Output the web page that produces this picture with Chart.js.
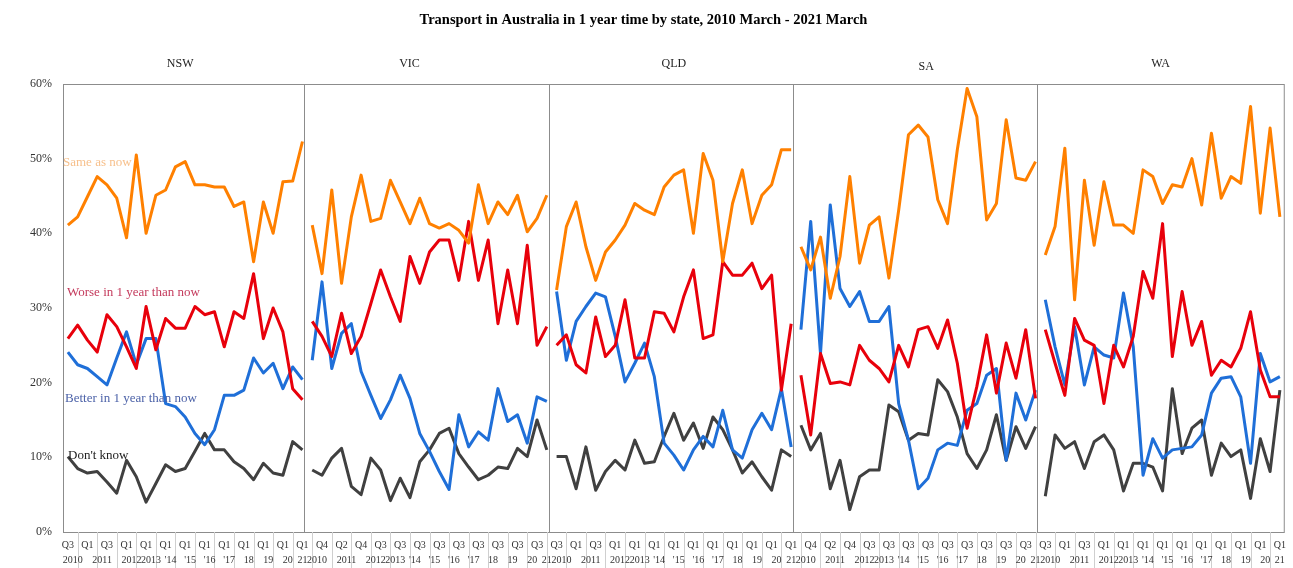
<!DOCTYPE html>
<html>
<head>
<meta charset="utf-8">
<script src="https://cdn.jsdelivr.net/npm/chart.js@4"></script>
<style>
  body { margin: 0; background: #fff; }
  #chart { display: block; }
</style>
</head>
<body>
<canvas id="chart" width="1293" height="568"></canvas>
<script>
// categories
const states = ['NSW', 'VIC', 'QLD', 'SA', 'WA'];
const quarters = ['Q3','Q4','Q1','Q2','Q3','Q4','Q1','Q3','Q1','Q3','Q1','Q3','Q1','Q3','Q1','Q3','Q1','Q3','Q1','Q3','Q1','Q3','Q1','Q3','Q1'];
const years = ['2010','2010','2011','2011','2011','2011','2012','2012','2013','2013',"'14","'14","'15","'15","'16","'16","'17","'17",'18','18','19','19','20','20','21'];
const seriesNames = ['Same as now', 'Worse in 1 year than now', 'Better in 1 year than now', "Don't know"];
const seriesColors = ['#ff8000', '#e8000b', '#1f6fd8', '#404040'];
const yTicks = [0, 10, 20, 30, 40, 50, 60];

// values, % of respondents
const nswSame     = [41.1,42.2,44.9,47.6,46.5,44.7,39.4,50.5,40.0,45.1,45.8,48.9,49.6,46.5,46.5,46.2,46.2,43.6,44.2,36.2,44.2,40.0,46.9,47.0,52.3];
const nswWorse    = [25.9,27.7,25.7,24.1,29.1,27.5,24.8,21.9,30.2,24.4,28.6,27.3,27.3,30.2,29.1,29.5,24.8,29.5,28.6,34.6,25.9,30.0,26.8,19.2,17.7];
const nswBetter   = [24.1,22.4,21.9,20.8,19.7,23.3,26.8,22.4,25.9,25.9,17.2,16.8,15.4,13.2,11.7,13.7,18.3,18.3,19.0,23.3,21.3,22.6,19.2,22.1,20.4];
const nswDontKnow = [10.1,8.5,7.9,8.1,6.7,5.2,9.6,7.4,4.0,6.5,9.0,8.1,8.5,10.8,13.2,11.0,11.0,9.4,8.5,7.0,9.2,7.9,7.6,12.1,11.0];

const vicSame     = [41.1,34.6,45.8,33.3,42.2,47.8,41.6,42.0,47.1,44.2,41.3,44.7,41.3,40.7,41.3,40.4,38.7,46.5,41.3,44.2,42.5,45.1,40.2,42.0,45.1];
const vicWorse    = [28.2,26.2,23.5,29.3,23.9,26.2,30.6,35.1,31.5,28.2,36.9,33.3,37.5,39.1,39.1,33.7,41.6,33.7,39.1,27.9,35.1,27.9,38.4,25.0,27.5];
const vicBetter   = [23.0,33.5,21.9,26.6,27.9,21.5,18.3,15.2,17.7,21.0,17.9,13.2,10.8,8.1,5.7,15.7,11.4,13.4,12.3,19.2,14.8,15.7,11.9,18.1,17.5];
const vicDontKnow = [8.3,7.6,9.9,11.2,6.1,5.0,9.9,8.3,4.2,7.2,4.6,9.4,11.0,13.2,13.9,10.5,8.7,7.0,7.6,8.7,8.5,11.2,10.1,15.0,11.0];

const qldSame     = [32.4,40.9,44.2,38.2,33.7,37.5,39.1,41.1,44.0,43.1,42.5,46.2,47.8,48.5,40.0,50.7,47.1,36.2,44.0,48.5,41.3,45.1,46.5,51.2,51.2];
const qldWorse    = [25.0,26.4,22.4,21.3,28.8,23.5,25.0,31.1,23.3,23.3,29.5,29.3,26.8,31.5,35.1,25.9,26.4,36.2,34.4,34.4,36.0,32.6,34.4,19.0,27.9];
const qldBetter   = [32.2,23.0,28.2,30.2,32.0,31.5,26.2,20.1,22.6,25.3,20.8,11.9,10.3,8.3,11.0,12.8,11.4,16.3,11.0,9.9,13.7,15.9,13.7,19.2,11.4];
const qldDontKnow = [10.1,10.1,5.8,11.4,5.6,8.1,9.6,8.3,12.3,9.2,9.4,12.8,15.9,12.3,14.6,11.2,15.4,13.7,11.0,7.9,9.4,7.4,5.6,11.0,10.1];

const saSame      = [38.2,35.1,39.5,31.3,36.9,47.6,36.0,41.1,42.2,34.0,43.1,53.2,54.5,52.9,44.5,41.3,51.2,59.4,55.6,41.8,44.0,55.2,47.4,47.1,49.6];
const saWorse     = [21.0,13.0,23.9,19.9,20.1,19.7,25.0,23.0,21.9,20.1,25.0,22.1,27.1,27.5,24.6,28.4,22.6,13.9,19.5,26.4,18.6,25.3,20.6,27.1,17.9];
const saBetter    = [27.1,41.6,23.9,43.8,32.6,30.2,32.2,28.2,28.2,30.2,17.2,12.3,5.8,7.2,11.0,11.9,11.6,16.3,17.2,21.0,21.9,9.6,18.6,15.0,19.0];
const saDontKnow  = [14.3,11.0,13.2,5.8,9.6,3.0,7.4,8.3,8.3,17.0,16.1,12.3,13.2,13.0,20.4,18.8,15.4,10.5,8.5,11.0,15.7,9.6,14.1,11.2,14.1];

const waSame      = [37.1,40.9,51.4,31.1,47.1,38.4,46.9,41.1,41.1,40.0,48.5,47.6,44.0,46.5,46.2,50.0,43.8,53.4,44.7,47.6,46.7,57.0,42.7,54.1,42.2];
const waWorse     = [27.1,22.6,18.3,28.6,25.7,25.0,17.2,25.0,22.1,26.2,34.9,31.3,41.3,23.5,32.2,25.0,28.2,21.0,23.0,22.1,24.6,29.5,21.7,18.1,18.1];
const waBetter    = [31.1,24.8,19.7,27.5,19.7,24.8,23.7,23.3,32.0,24.8,7.6,12.5,9.9,11.0,11.2,11.4,13.0,18.6,20.6,20.8,18.1,9.2,23.9,20.1,20.8];
const waDontKnow  = [4.8,13.0,11.2,12.1,8.5,12.1,13.0,11.0,5.5,9.2,9.2,8.7,5.5,19.2,10.5,13.9,15.0,7.6,11.9,10.1,11.0,4.5,12.5,8.1,19.0];

const stateSeries = [
  [nswSame, nswWorse, nswBetter, nswDontKnow],
  [vicSame, vicWorse, vicBetter, vicDontKnow],
  [qldSame, qldWorse, qldBetter, qldDontKnow],
  [saSame, saWorse, saBetter, saDontKnow],
  [waSame, waWorse, waBetter, waDontKnow]
];

const perPanel = quarters.length;
const allLabels = states.flatMap(() => quarters);

// one dataset per state & series, padded with nulls so panels don't join
const datasets = [];
stateSeries.forEach((series, p) => {
  series.forEach((vals, k) => {
    const data = new Array(allLabels.length).fill(null);
    vals.forEach((v, i) => { data[p * perPanel + i] = v; });
    datasets.push({
      label: states[p] + ' ' + seriesNames[k],
      data: data,
      borderColor: seriesColors[k],
      backgroundColor: seriesColors[k],
      borderWidth: 3,
      borderJoinStyle: 'round',
      pointRadius: 0,
      tension: 0,
      spanGaps: false,
      fill: false
    });
  });
});

const serif = "'Liberation Serif', 'Times New Roman', serif";

// frame + panel separators
const panelFrame = {
  id: 'panelFrame',
  beforeDatasetsDraw(chart) {
    const { ctx, chartArea: a, scales: { x } } = chart;
    const w = (a.right - a.left) / allLabels.length;
    ctx.save();
    ctx.strokeStyle = '#8c8c8c';
    ctx.lineWidth = 1;
    ctx.strokeRect(a.left + 0.5, a.top + 0.5, a.right - a.left - 1, a.bottom - a.top);
    for (let p = 1; p < states.length; p++) {
      const px = Math.round(x.getPixelForValue(p * perPanel) - w / 2 - 3) + 0.5;
      ctx.beginPath();
      ctx.moveTo(px, a.top);
      ctx.lineTo(px, a.bottom);
      ctx.stroke();
    }
    ctx.restore();
  }
};

// year row, label-area separators, panel names, series notes
const extraText = {
  id: 'extraText',
  afterDraw(chart) {
    const { ctx, chartArea: a, scales: { x, y } } = chart;
    ctx.save();
    // thin lines between category labels
    ctx.strokeStyle = '#cfcfcf';
    ctx.lineWidth = 1;
    for (let g = 1; g < allLabels.length; g += 2) {
      const px = Math.round(x.getPixelForValue(g)) + 0.5;
      ctx.beginPath();
      ctx.moveTo(px, a.bottom);
      ctx.lineTo(px, chart.height);
      ctx.stroke();
    }
    // year labels centred on their groups
    ctx.fillStyle = '#333';
    ctx.font = '10px ' + serif;
    ctx.textAlign = 'center';
    ctx.textBaseline = 'middle';
    states.forEach((s, p) => {
      let start = 0;
      for (let i = 1; i <= perPanel; i++) {
        if (i === perPanel || years[i] !== years[start]) {
          const cx = (x.getPixelForValue(p * perPanel + start) + x.getPixelForValue(p * perPanel + i - 1)) / 2;
          ctx.fillText(years[start], cx, a.bottom + 28);
          start = i;
        }
      }
    });
    // panel names
    const nameShift = [-5, -20, 0, 8, -2];
    const nameDrop = [0, 0, 0, 3, 0];
    ctx.fillStyle = '#222';
    ctx.font = '12px ' + serif;
    states.forEach((s, p) => {
      const cx = x.getPixelForValue(p * perPanel + (perPanel - 1) / 2);
      ctx.fillText(s, cx + nameShift[p], a.top - 20 + nameDrop[p]);
    });
    // series notes inside the first panel
    const notes = [
      { text: seriesNames[0], v: 49.5, dx: 0,  color: '#f7c08c' },
      { text: seriesNames[1], v: 32.0, dx: 4,  color: '#c43a5c' },
      { text: seriesNames[2], v: 17.9, dx: 2,  color: '#4c62a8' },
      { text: seriesNames[3], v: 10.2, dx: 5,  color: '#222222' }
    ];
    ctx.textAlign = 'left';
    ctx.font = '13px ' + serif;
    notes.forEach(n => {
      ctx.fillStyle = n.color;
      ctx.fillText(n.text, a.left + n.dx, y.getPixelForValue(n.v));
    });
    ctx.restore();
  }
};

new Chart(document.getElementById('chart'), {
  type: 'line',
  data: { labels: allLabels, datasets: datasets },
  options: {
    responsive: false,
    animation: false,
    devicePixelRatio: 1,
    layout: { padding: { top: 0, right: 6, bottom: 0, left: 0 } },
    plugins: {
      legend: { display: false },
      tooltip: { enabled: false },
      title: {
        display: true,
        text: 'Transport in Australia in 1 year time by state, 2010 March - 2021 March',
        color: '#000',
        font: { family: serif, size: 14.5, weight: 'bold' },
        padding: { top: 12, bottom: 54.6 }
      }
    },
    scales: {
      x: {
        type: 'category',
        offset: true,
        grid: { display: false, drawTicks: false },
        border: { display: false },
        afterFit(scale) { scale.height = 36; },
        ticks: {
          autoSkip: false,
          maxRotation: 0,
          minRotation: 0,
          padding: 7,
          color: '#333',
          font: { family: serif, size: 10 },
          callback(value, index) { return index % 2 === 0 ? allLabels[index] : ''; }
        }
      },
      y: {
        min: yTicks[0],
        max: yTicks[yTicks.length - 1],
        grid: { display: false, drawTicks: false },
        border: { display: false },
        afterFit(scale) { scale.width = 63; },
        afterBuildTicks(scale) { scale.ticks = yTicks.map(v => ({ value: v })); },
        ticks: {
          padding: 11,
          color: '#333',
          font: { family: serif, size: 12 },
          callback(v) { return v + '%'; }
        }
      }
    }
  },
  plugins: [panelFrame, extraText]
});
</script>
</body>
</html>
